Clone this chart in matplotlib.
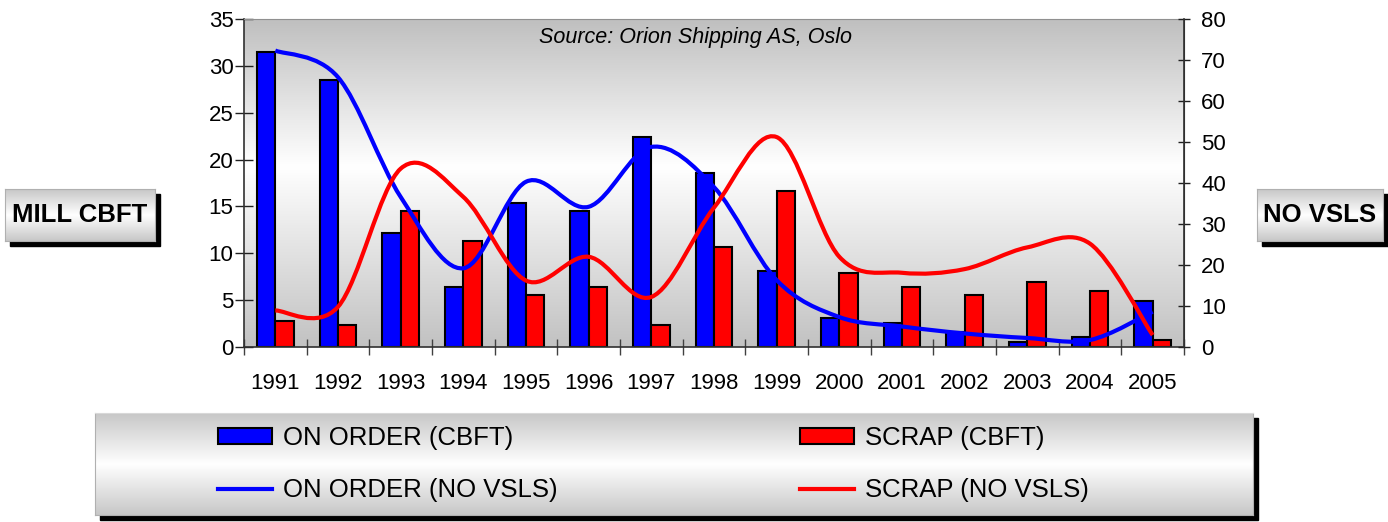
import numpy as np
import matplotlib
matplotlib.use("Agg")
import matplotlib.pyplot as plt
from matplotlib.path import Path
from matplotlib.patches import PathPatch, Rectangle, Patch
from matplotlib.lines import Line2D

plt.rcParams['font.family'] = ['Liberation Sans', 'DejaVu Sans']

years = ['1991', '1992', '1993', '1994', '1995', '1996', '1997', '1998',
         '1999', '2000', '2001', '2002', '2003', '2004', '2005']
on_order_cbft = [31.5, 28.5, 12.2, 6.4, 15.4, 14.5, 22.4, 18.6, 8.1, 3.1, 2.6, 1.6, 0.5, 1.1, 4.9]
scrap_cbft = [2.8, 2.35, 14.5, 11.3, 5.6, 6.4, 2.3, 10.7, 16.6, 7.9, 6.4, 5.6, 6.9, 6.0, 0.7]
on_order_vsls = [72.3, 65.8, 36.6, 19.2, 40.3, 34.2, 48.8, 39.0, 16.3, 7.3, 5.0, 3.3, 2.2, 1.7, 8.6]
scrap_vsls = [8.9, 9.8, 43.5, 36.6, 16.2, 22.0, 12.2, 34.0, 51.2, 22.0, 18.1, 19.0, 24.3, 25.2, 2.9]

W, H = 1388, 522
NARROW = ['Liberation Sans Narrow', 'Liberation Sans', 'DejaVu Sans']


def px_rect(l, t, r, b):
    return [l / W, 1 - b / H, (r - l) / W, (b - t) / H]


def gradient(stops):
    t = np.linspace(0, 1, 256)
    g = np.interp(t, [s[0] for s in stops], [s[1] for s in stops])
    return np.dstack([g, g, g]).reshape(256, 1, 3)


def smooth_path(x, y):
    # excel style smoothed line: bezier segments, catmull-rom control points
    n = len(x)
    verts = [(x[0], y[0])]
    codes = [Path.MOVETO]
    for i in range(n - 1):
        a = max(i - 1, 0)
        d = min(i + 2, n - 1)
        c1 = (x[i] + (x[i + 1] - x[a]) / 6, y[i] + (y[i + 1] - y[a]) / 6)
        c2 = (x[i + 1] - (x[d] - x[i]) / 6, y[i + 1] - (y[d] - y[i]) / 6)
        verts += [c1, c2, (x[i + 1], y[i + 1])]
        codes += [Path.CURVE4] * 3
    return Path(verts, codes)


def shaded_box(l, t, r, b, off=5):
    fig.add_artist(Rectangle(((l + off) / W, 1 - (b + off) / H), (r - l) / W, (b - t) / H,
                             transform=fig.transFigure, color='black', zorder=-5))
    bx = fig.add_axes(px_rect(l, t, r, b), zorder=-4)
    bx.imshow(gradient([(0, 0.78), (0.5, 1.0), (1, 0.78)]), extent=[0, 1, 0, 1], aspect='auto')
    bx.set_xlim(0, 1)
    bx.set_ylim(0, 1)
    bx.set_xticks([])
    bx.set_yticks([])
    for s in bx.spines.values():
        s.set_color('#b0b0b0')
    return bx


fig = plt.figure(figsize=(W / 100, H / 100), dpi=100)

# plot area background
bg = fig.add_axes(px_rect(244, 19, 1184, 347), zorder=-1)
bg.imshow(gradient([(0, 0.75), (0.45, 1.0), (1, 0.76)]), extent=[0, 1, 0, 1], aspect='auto')
bg.axis('off')

ax = fig.add_axes(px_rect(244, 19, 1184, 347))
ax.patch.set_alpha(0)
x = np.arange(len(years))
w = 0.29
ax.bar(x - w / 2, on_order_cbft, w, color='#0000ff', edgecolor='black', linewidth=1.5, zorder=2)
ax.bar(x + w / 2, scrap_cbft, w, color='#ff0000', edgecolor='black', linewidth=1.5, zorder=2)
ax.set_xlim(-0.5, len(years) - 0.5)
ax.set_ylim(0, 35)
ax.set_yticks(range(0, 36, 5))
ax.set_xticks(np.arange(-0.5, len(years), 1))
ax.set_xticklabels([])
ax.set_xticks(x, minor=True)
ax.set_xticklabels(years, minor=True, fontsize=16)
ax.tick_params(axis='x', which='major', direction='inout', length=12, width=1, color='#404040')
ax.tick_params(axis='x', which='minor', length=0, pad=19)
ax.tick_params(axis='y', direction='inout', length=13, width=1, labelsize=16, pad=1, color='#202020')
for s in ['left', 'bottom', 'right']:
    ax.spines[s].set_color('#303030')
ax.spines['top'].set_color('#909090')
ax.spines['left'].set_linewidth(1.2)
ax.spines['bottom'].set_linewidth(1.2)

ax2 = ax.twinx()
ax2.add_patch(PathPatch(smooth_path(x, on_order_vsls), fill=False, edgecolor='#0000ff',
                        linewidth=3, capstyle='butt', joinstyle='round', zorder=3))
ax2.add_patch(PathPatch(smooth_path(x, scrap_vsls), fill=False, edgecolor='#ff0000',
                        linewidth=3, capstyle='butt', joinstyle='round', zorder=3))
ax2.set_xlim(-0.5, len(years) - 0.5)
ax2.set_ylim(0, 80)
ax2.set_yticks(range(0, 81, 10))
ax2.tick_params(axis='y', direction='inout', length=9, width=1, labelsize=16, pad=8, color='#202020')
ax2.spines['right'].set_color('#303030')
ax2.spines['right'].set_linewidth(1.2)
for s in ['left', 'top', 'bottom']:
    ax2.spines[s].set_visible(False)

ax.text(0.48, 0.945, 'Source: Orion Shipping AS, Oslo', transform=ax.transAxes,
        ha='center', va='center', fontsize=15.5, style='italic')

# axis title boxes
lb = shaded_box(5, 189, 155, 241)
lb.text(0.5, 0.5, 'MILL CBFT', ha='center', va='center', fontsize=18.5, fontweight='bold',
        transform=lb.transAxes)
rb = shaded_box(1257, 189, 1383, 241)
rb.text(0.5, 0.5, 'NO VSLS', ha='center', va='center', fontsize=18.5, fontweight='bold',
        transform=rb.transAxes)

# legend box
lg = shaded_box(95, 413, 1253, 515, off=5)
lg.spines['top'].set_color('#d8d8d8')
blue_handles = [Patch(facecolor='#0000ff', edgecolor='black', linewidth=1.5),
                Line2D([], [], color='#0000ff', linewidth=3)]
red_handles = [Patch(facecolor='#ff0000', edgecolor='black', linewidth=1.5),
               Line2D([], [], color='#ff0000', linewidth=3)]
leg_kw = dict(frameon=False, prop={'family': NARROW, 'size': 18.5}, handlelength=2.1,
              handleheight=0.57, handletextpad=0.42, labelspacing=1.1, borderpad=0,
              borderaxespad=0, loc='center left')
leg1 = lg.legend(blue_handles, ['ON ORDER (CBFT)', 'ON ORDER (NO VSLS)'],
                 bbox_to_anchor=((218 - 95) / (1253 - 95), 0.5), **leg_kw)
lg.add_artist(leg1)
lg.legend(red_handles, ['SCRAP (CBFT)', 'SCRAP (NO VSLS)'],
          bbox_to_anchor=((800 - 95) / (1253 - 95), 0.5), **leg_kw)

fig.savefig('out.png', dpi=100)
